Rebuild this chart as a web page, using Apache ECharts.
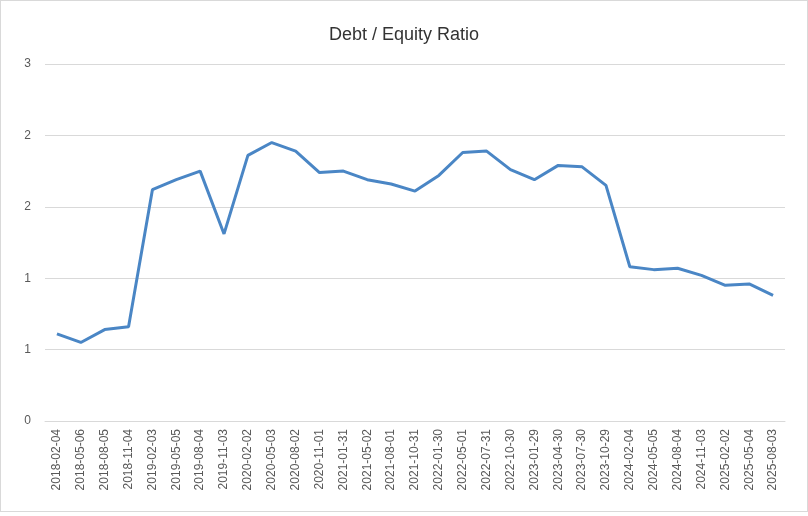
<!DOCTYPE html>
<html>
<head>
<meta charset="utf-8">
<script src="https://cdn.jsdelivr.net/npm/echarts@6/dist/echarts.min.js"></script>
<style>
  html, body { margin: 0; padding: 0; background: #fff; }
  #chart { width: 806px; height: 510px; border: 1px solid #d9d9d9; }
</style>
</head>
<body>
<div id="chart"></div>
<script>
// quarter dates
const dates = [
  '2018-02-04', '2018-05-06', '2018-08-05', '2018-11-04',
  '2019-02-03', '2019-05-05', '2019-08-04', '2019-11-03',
  '2020-02-02', '2020-05-03', '2020-08-02', '2020-11-01',
  '2021-01-31', '2021-05-02', '2021-08-01', '2021-10-31',
  '2022-01-30', '2022-05-01', '2022-07-31', '2022-10-30',
  '2023-01-29', '2023-04-30', '2023-07-30', '2023-10-29',
  '2024-02-04', '2024-05-05', '2024-08-04', '2024-11-03',
  '2025-02-02', '2025-05-04', '2025-08-03'
];
const debtEquity = [
  0.61, 0.55, 0.64, 0.66,
  1.62, 1.69, 1.75, 1.31,
  1.86, 1.95, 1.89, 1.74,
  1.75, 1.69, 1.66, 1.61,
  1.72, 1.88, 1.89, 1.76,
  1.69, 1.79, 1.78, 1.65,
  1.08, 1.06, 1.07, 1.02,
  0.95, 0.96, 0.88
];

let chart = echarts.init(document.getElementById('chart'));
chart.setOption({
  animation: false,
  textStyle: { fontFamily: 'Liberation Sans, Arial, sans-serif' },
  title: {
    text: 'Debt / Equity Ratio',
    left: 'center',
    top: 20,
    textStyle: { fontSize: 18, fontWeight: 'normal', color: '#333' }
  },
  grid: { left: 44, right: 22, top: 63, bottom: 90 },
  xAxis: {
    type: 'category',
    boundaryGap: true,
    data: dates,
    axisLine: { lineStyle: { color: '#d9d9d9' } },
    axisTick: { show: false },
    axisLabel: { rotate: 90, interval: 0, color: '#595959', fontSize: 12, margin: 8 }
  },
  yAxis: {
    type: 'value',
    min: 0,
    max: 2.5,
    interval: 0.5,
    axisLine: { show: false },
    axisTick: { show: false },
    splitLine: { lineStyle: { color: '#d9d9d9' } },
    axisLabel: {
      color: '#595959',
      fontSize: 12,
      margin: 14,
      formatter: function (v) { return Math.round(v); }
    }
  },
  series: [
    {
      type: 'line',
      data: debtEquity,
      showSymbol: false,
      lineStyle: { color: '#4a86c5', width: 3 },
      itemStyle: { color: '#4a86c5' }
    }
  ]
});
</script>
</body>
</html>
